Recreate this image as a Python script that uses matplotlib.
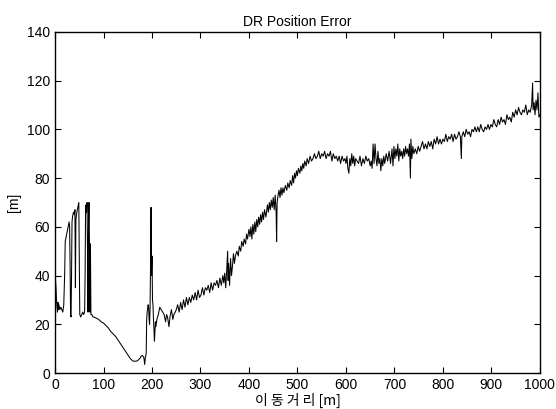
import matplotlib
matplotlib.use('Agg')
import matplotlib.pyplot as plt

plt.rcParams['font.family'] = ['Liberation Sans', 'Noto Sans CJK KR', 'DejaVu Sans']

# 이동거리 [m]
dist = [0, 1, 2, 3, 4, 5, 6, 7, 8, 10, 12, 14, 16, 18, 20, 21, 23, 25, 27, 29, 30, 31, 32, 33, 34, 35, 36, 38, 40, 41, 42, 43, 45, 47, 49, 50, 51, 53, 55, 57, 59, 61, 62, 63, 64, 65, 66, 67, 68, 69, 70, 71, 72, 73, 74, 76, 78,
        80, 85, 90, 95, 100, 105, 110, 115, 120, 125, 130, 135, 140, 145, 150, 155, 160, 165, 170, 175, 178, 180, 183, 185, 186, 188, 189, 190, 192, 193, 194, 195, 196, 197, 198, 199, 200, 201, 202, 203, 204, 205, 206, 207, 208,
        210, 213, 216, 219, 222, 225, 228, 230, 232, 235, 237, 240, 243, 245, 248, 250, 253, 256, 259, 262, 265, 268, 271, 274, 277, 280, 283, 286, 289, 292, 295, 298,
        301, 304, 307, 310, 313, 316, 319, 322, 325, 328, 331, 334, 337, 340, 343, 346, 348, 350, 352, 354, 356, 357, 358, 360, 362, 364, 366, 368, 370, 372, 375, 378, 380, 383, 385, 388, 390, 393, 395, 397,
        400, 402, 404, 406, 408, 410, 412, 414, 416, 418, 420, 422, 424, 426, 428, 430, 432, 435, 438, 440, 442, 444, 446, 448, 450, 452, 454, 456, 457, 458, 460, 462, 464, 466, 468, 470, 472, 475, 478, 480, 483, 485, 488, 490, 492, 494, 496, 498,
        500, 502, 505, 507, 509, 511, 513, 515, 518, 520, 523, 526, 529, 532, 535, 538, 541, 544, 547, 550, 553, 556, 559, 562, 565, 568, 571, 574, 577, 580, 583, 586, 589, 592, 595, 598,
        600, 602, 604, 606, 608, 610, 612, 614, 616, 618, 620, 623, 626, 629, 632, 635, 638, 641, 644, 647, 650, 652, 654, 656, 658, 660, 662, 664, 666, 668, 670, 672, 674, 676, 678, 680, 683, 686, 689, 692, 695, 697, 699,
        701, 703, 705, 707, 709, 711, 713, 715, 717, 719, 721, 723, 725, 727, 729, 731, 733, 734, 736, 738, 740, 743, 746, 749, 752, 755, 758, 761, 764, 767, 770, 773, 776, 779, 782, 785, 788, 791, 794, 797,
        800, 803, 806, 809, 812, 815, 818, 821, 824, 827, 830, 833, 836, 838, 839, 842, 845, 848, 851, 854, 857, 860, 863, 866, 869, 872, 875, 878, 881, 884, 887, 890, 893, 896, 899,
        902, 905, 908, 911, 914, 917, 920, 923, 926, 929, 932, 935, 938, 941, 944, 947, 950, 953, 956, 959, 962, 965, 968, 971, 974, 977, 980, 983, 985, 986, 988, 990, 992, 994, 996, 998, 1000]

# DR 위치 오차 [m]
err = [36, 38, 35, 30, 27, 25, 29, 26, 28, 26, 27, 26, 25, 28, 42, 54, 56, 58, 60, 62, 60, 45, 24, 23, 40, 62, 64, 66, 65, 67, 35, 63, 66, 68, 70, 45, 24, 23, 24, 25, 24, 25, 40, 68, 69, 66, 70, 50, 25, 60, 70, 52, 25, 53, 24, 24, 23,
       23, 22.5, 22, 21, 20.5, 19.5, 18.5, 17, 16, 15, 13.5, 12, 10.5, 9, 7.5, 6, 5, 4.8, 5, 6, 7, 7.2, 6.5, 3.5, 6, 8, 22, 25, 28, 27, 22, 20, 27, 45, 68, 40, 48, 30, 28, 22, 18, 13, 17, 21, 19,
       22, 24, 27, 26, 25, 24, 21, 24, 23, 19, 23, 26, 22, 24, 25, 26, 28, 25, 29, 26, 30, 27, 31, 28, 31, 29, 32, 30, 33, 30, 34, 31,
       32, 35, 32, 35, 34, 36, 33, 37, 34, 37, 36, 38, 35, 39, 36, 40, 37, 41, 35, 42, 50, 38, 45, 36, 47, 40, 44, 49, 45, 48, 50, 48, 52, 50, 54, 52, 55, 53, 57, 55,
       59, 56, 60, 55, 61, 57, 62, 58, 63, 60, 64, 61, 65, 62, 66, 63, 67, 64, 69, 66, 70, 67, 71, 68, 72, 67, 73, 66, 54, 70, 73, 75, 72, 76, 73, 76, 74, 77, 75, 78, 76, 79, 77, 81, 78, 82, 80, 83,
       81, 84, 82, 85, 83, 86, 84, 87, 85, 88, 86, 89, 87, 88, 90, 88, 89, 91, 88, 90, 89, 91, 88, 90, 89, 91, 87, 90, 88, 89, 87, 89, 86, 89, 87, 88,
       86, 89, 84, 82, 88, 85, 90, 86, 89, 85, 88, 87, 86, 89, 85, 88, 86, 89, 87, 88, 85, 87, 84, 94, 86, 94, 88, 85, 91, 86, 88, 83, 88, 85, 89, 86, 90, 87, 91, 86, 92, 85, 93,
       88, 92, 89, 94, 87, 92, 89, 91, 88, 92, 89, 93, 90, 92, 89, 94, 80, 96, 88, 93, 90, 92, 90, 93, 91, 93, 95, 92, 94, 92, 95, 93, 95, 92, 96, 94, 97, 94, 96, 94,
       96, 95, 98, 95, 97, 96, 98, 95, 98, 96, 97, 99, 97, 88, 97, 99, 97, 100, 98, 99, 97, 100, 99, 101, 99, 101, 99, 102, 100, 99, 101, 100, 102, 100, 102,
       101, 104, 102, 101, 104, 102, 105, 103, 104, 102, 106, 104, 105, 103, 107, 105, 108, 106, 109, 107, 106, 108, 107, 110, 106, 108, 107, 110, 119, 108, 111, 106, 112, 108, 115, 105, 106]

xticks = list(range(0, 1001, 100))
yticks = list(range(0, 141, 20))

fig = plt.figure(figsize=(5.56, 4.09), dpi=100)
ax = fig.add_axes([0.099, 0.088, 0.872, 0.834])
ax.plot(dist, err, color='black', linewidth=0.75)

ax.set_xlim(0, 1000)
ax.set_ylim(0, 140)
ax.set_xticks(xticks)
ax.set_yticks(yticks)
ax.tick_params(direction='in', top=True, right=True, labelsize=10, length=4)
for s in ax.spines.values():
    s.set_linewidth(1.0)

ax.set_title('DR Position Error', fontsize=10, pad=4)
ax.set_xlabel('이 동 거 리 [m]', fontsize=10, labelpad=1, family=['Noto Sans CJK KR', 'DejaVu Sans'])
ax.set_ylabel('[m]', fontsize=10, labelpad=4)

fig.savefig('out.png', dpi=100)
